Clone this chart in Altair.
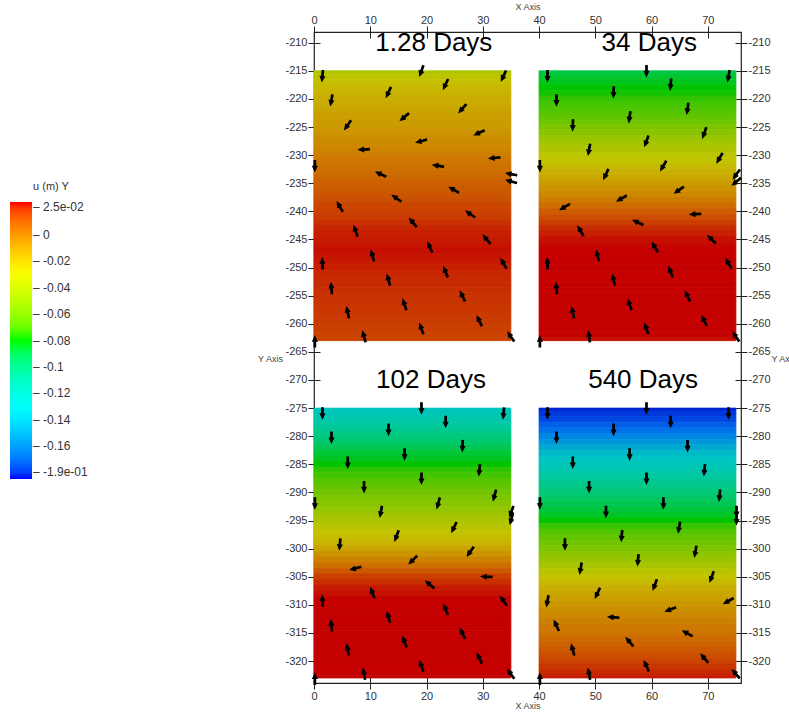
import altair as alt
import pandas as pd

FONT = "Liberation Sans"

# Four blocks (m): titles, top-left corners and size
panel_titles = ["1.28 Days", "34 Days", "102 Days", "540 Days"]
panel_x0 = [0, 40, 0, 40]
panel_y0 = [-215, -215, -275, -275]
panel_w = 35
panel_h = 48
title_x = [21.3, 59.6, 20.8, 58.5]
title_y = [-210, -210, -270, -270]

# Vertical displacement u_y (m), read every 1 m down from the top of each block
depth_steps = list(range(0, 49))
uy_1_28 = [-0.038, -0.031, -0.026, -0.023, -0.021, -0.019, -0.018, -0.016, -0.014, -0.013,
           -0.012, -0.010, -0.008, -0.0065, -0.005, -0.0025, 0.000, 0.0015, 0.003, 0.005,
           0.007, 0.0085, 0.010, 0.012, 0.014, 0.0155, 0.017, 0.019, 0.021, 0.022,
           0.023, 0.0235, 0.024, 0.0235, 0.023, 0.022, 0.021, 0.0205, 0.020, 0.0195,
           0.019, 0.0185, 0.018, 0.0175, 0.017, 0.0165, 0.016, 0.0155, 0.015]
uy_34 = [-0.090, -0.085, -0.082, -0.080, -0.079, -0.076, -0.073, -0.070, -0.067, -0.063,
         -0.058, -0.053, -0.047, -0.042, -0.037, -0.032, -0.028, -0.024, -0.020, -0.0165,
         -0.013, -0.0095, -0.006, -0.0015, 0.003, 0.0075, 0.012, 0.016, 0.020, 0.022,
         0.024, 0.0245, 0.025, 0.025, 0.025, 0.025, 0.025, 0.025, 0.025, 0.025,
         0.025, 0.025, 0.025, 0.025, 0.025, 0.025, 0.025, 0.025, 0.024]
uy_102 = [-0.128, -0.1235, -0.119, -0.1135, -0.108, -0.103, -0.098, -0.092, -0.086, -0.083,
          -0.080, -0.0765, -0.073, -0.069, -0.065, -0.061, -0.057, -0.053, -0.049, -0.0435,
          -0.038, -0.0335, -0.029, -0.025, -0.021, -0.0155, -0.010, -0.004, 0.002, 0.009,
          0.016, 0.0195, 0.023, 0.024, 0.025, 0.025, 0.025, 0.025, 0.025, 0.025,
          0.025, 0.025, 0.025, 0.025, 0.025, 0.025, 0.025, 0.025, 0.025]
uy_540 = [-0.182, -0.1785, -0.175, -0.169, -0.163, -0.1565, -0.150, -0.1435, -0.137, -0.1315,
          -0.126, -0.1205, -0.115, -0.110, -0.105, -0.1005, -0.096, -0.0915, -0.087, -0.0835,
          -0.080, -0.075, -0.070, -0.0655, -0.061, -0.0565, -0.052, -0.0465, -0.041, -0.0345,
          -0.028, -0.0235, -0.019, -0.0165, -0.014, -0.011, -0.008, -0.0055, -0.003, -0.001,
          0.001, 0.0035, 0.006, 0.009, 0.012, 0.015, 0.018, 0.0205, 0.023]
uy_panels = [uy_1_28, uy_34, uy_102, uy_540]

# Glyph sample points (offset from block's top-left, m) and arrow bearing (deg, clockwise from up)
arrow_dx = [1.5, 19.1, 33.7, 23.4, 13.25, 3.1, 26.4, 16.1, 6.0, 29.4, 19.1, 8.9, 0.15,
            32.1, 22.1, 11.9, 35.1, 35.1, 24.9, 14.7, 4.6, 27.8, 17.6, 7.4, 30.7, 20.6,
            10.4, 1.5, 33.7, 23.4, 13.25, 3.1, 26.4, 16.1, 6.0, 29.4, 19.1, 8.9, 0.15, 35.0]
arrow_dy = [0.9, 0.0, 0.9, 2.4, 3.8, 5.2, 6.7, 8.2, 9.65, 11.0, 12.5, 14.0, 16.9,
            15.5, 16.9, 18.4, 18.4, 19.7, 21.2, 22.7, 24.2, 25.5, 27.0, 28.5, 30.0, 31.4,
            32.9, 34.3, 34.3, 35.8, 37.2, 38.7, 40.1, 41.6, 43.0, 44.5, 45.9, 47.3, 48.2, 47.3]
dir_1_28 = [185, 200, 205, 205, 205, 190, 222, 230, 215, 245, 255, 267, 180, 265, 280,
            295, 280, 285, 300, 305, 330, 305, 320, 340, 320, 335, 345, 358, 330, 338,
            345, 355, 335, 342, 348, 335, 340, 345, 0, 325]
dir_34 = [180, 180, 190, 185, 182, 180, 188, 188, 182, 200, 200, 190, 180, 210, 210,
          205, 215, 230, 235, 240, 240, 268, 295, 330, 315, 330, 345, 357, 330, 340,
          345, 355, 335, 340, 348, 335, 340, 352, 0, 325]
dir_102 = [180, 180, 185, 180, 180, 180, 182, 180, 180, 185, 180, 180, 180, 195, 195,
           190, 200, 195, 205, 200, 185, 215, 225, 255, 272, 310, 340, 358, 325, 338,
           345, 355, 335, 340, 350, 335, 340, 350, 0, 325]
dir_540 = [180, 180, 180, 180, 180, 180, 180, 180, 180, 185, 180, 180, 180, 185, 180,
           180, 180, 180, 190, 185, 180, 190, 185, 190, 200, 200, 205, 190, 240, 250,
           275, 335, 300, 320, 345, 320, 335, 350, 0, 320]
dir_panels = [dir_1_28, dir_34, dir_102, dir_540]

# Colour bar ticks
cb_ticks = [0.025, 0, -0.02, -0.04, -0.06, -0.08, -0.1, -0.12, -0.14, -0.16, -0.185]
x_ticks = list(range(0, 71, 10))
y_ticks = list(range(-210, -321, -5))

# Build tables
band_rows, arrow_rows = [], []
for p in range(4):
    for d, u in zip(depth_steps, uy_panels[p]):
        band_rows.append({
            "x0": panel_x0[p], "x1": panel_x0[p] + panel_w,
            "ytop": panel_y0[p] - max(0, d - 0.5),
            "ybot": panel_y0[p] - min(panel_h, d + 0.5),
            "uy": u,
        })
    for dx, dy, a in zip(arrow_dx, arrow_dy, dir_panels[p]):
        arrow_rows.append({"x": panel_x0[p] + dx, "y": panel_y0[p] - dy, "ang": a})
bands = pd.DataFrame(band_rows)
arrows = pd.DataFrame(arrow_rows)
titles = pd.DataFrame({"x": title_x, "y": title_y, "label": panel_titles})
cbar = pd.DataFrame({"x": [0.0] * len(cb_ticks), "y": [-210.0] * len(cb_ticks), "uy": cb_ticks})

x_scale = alt.Scale(domain=[0, 75.9], nice=False, zero=False)
y_scale = alt.Scale(domain=[-323.9, -208.1], nice=False, zero=False)

# Blue-to-red rainbow; blocks are drawn shaded, the bar at full brightness
cmap_domain = [-0.185, -0.1325, -0.08, -0.0275, 0.025]
lit = ["#0000ff", "#00ffff", "#00ff00", "#ffff00", "#ff0000"]
shaded = ["#0000c4", "#00c4c4", "#00c400", "#c4c400", "#c40000"]
shaded_scale = alt.Scale(domain=cmap_domain, range=shaded)

common_axis = dict(
    domain=False, grid=False, offset=-6, tickSize=12, tickColor="#222", tickWidth=1,
    labelPadding=1, labelFont=FONT, labelFontSize=11, labelColor="#333",
    labelExpr="toString(datum.value)", labelFlush=False,
    titleFont=FONT, titleFontSize=9, titleFontWeight="normal", titleColor="#444",
    titleAngle=0, titleBaseline="middle",
)
ax_bottom = alt.Axis(orient="bottom", values=x_ticks, title="X Axis",
                     titleX=213.5, titleY=28, titleAlign="center", **common_axis)
ax_top = alt.Axis(orient="top", values=x_ticks, title="X Axis",
                  titleX=213.5, titleY=-32, titleAlign="center", **common_axis)
ax_left = alt.Axis(orient="left", values=y_ticks, title="Y Axis",
                   titleX=-50, titleY=326, titleAlign="center", **common_axis)
ax_right = alt.Axis(orient="right", values=y_ticks, title="Y Axis",
                    titleX=36, titleY=326, titleAlign="left", **common_axis)

field = alt.Chart(bands).mark_rect(strokeWidth=0.8).encode(
    x=alt.X("x0:Q", scale=x_scale, axis=ax_bottom),
    x2="x1:Q",
    y=alt.Y("ytop:Q", scale=y_scale, axis=ax_left),
    y2="ybot:Q",
    color=alt.Color("uy:Q", scale=shaded_scale, legend=None),
    stroke=alt.Stroke("uy:Q", scale=shaded_scale, legend=None),
)

colorbar = alt.Chart(cbar).mark_point(size=0, filled=True, opacity=1).encode(
    x=alt.X("x:Q", scale=x_scale, axis=None),
    y=alt.Y("y:Q", scale=y_scale, axis=None),
    color=alt.Color(
        "uy:Q",
        scale=alt.Scale(domain=cmap_domain, range=lit),
        legend=alt.Legend(
            title="u (m) Y", type="gradient", orient="none", direction="vertical",
            legendX=-304, legendY=149, padding=0,
            gradientLength=277, gradientThickness=22, gradientStrokeWidth=0,
            gradientOpacity=1,
            values=cb_ticks, labelOverlap=False, labelBaseline="middle", labelOffset=1,
            labelExpr="(datum.value > 0.02 ? '\u2013  2.5e-02' : datum.value < -0.18 ? "
                      "'\u2013  -1.9e-01' : '\u2013  ' + toString(round(datum.value * 100) / 100))",
            labelFont=FONT, labelFontSize=12, labelColor="#333",
            titleFont=FONT, titleFontSize=11, titleFontWeight="normal", titleColor="#333",
            titleAnchor="middle", titlePadding=10,
        ),
    ),
)

glyphs = alt.Chart(arrows).mark_point(
    shape="arrow", filled=True, size=110, color="#000", stroke="#000", strokeWidth=1.2, opacity=1
).encode(
    x=alt.X("x:Q", scale=x_scale, axis=ax_top),
    y=alt.Y("y:Q", scale=y_scale, axis=ax_right),
    angle=alt.Angle("ang:Q", scale=None),
)

labels = alt.Chart(titles).mark_text(
    font=FONT, fontSize=26, color="#000", baseline="middle", align="center"
).encode(
    x=alt.X("x:Q", scale=x_scale, axis=None),
    y=alt.Y("y:Q", scale=y_scale, axis=None),
    text="label:N",
)

chart = (
    alt.layer(field, colorbar, glyphs, labels)
    .resolve_scale(color="independent")
    .resolve_axis(x="independent", y="independent")
    .properties(
        width=427, height=651,
        autosize=alt.AutoSizeParams(type="none"),
        padding={"left": 314, "top": 32, "right": 48, "bottom": 32},
        background="#ffffff",
    )
    .configure_view(stroke="#222", strokeWidth=1.2)
)

chart.save("out.html", embed_options={"renderer": "svg", "actions": False})
